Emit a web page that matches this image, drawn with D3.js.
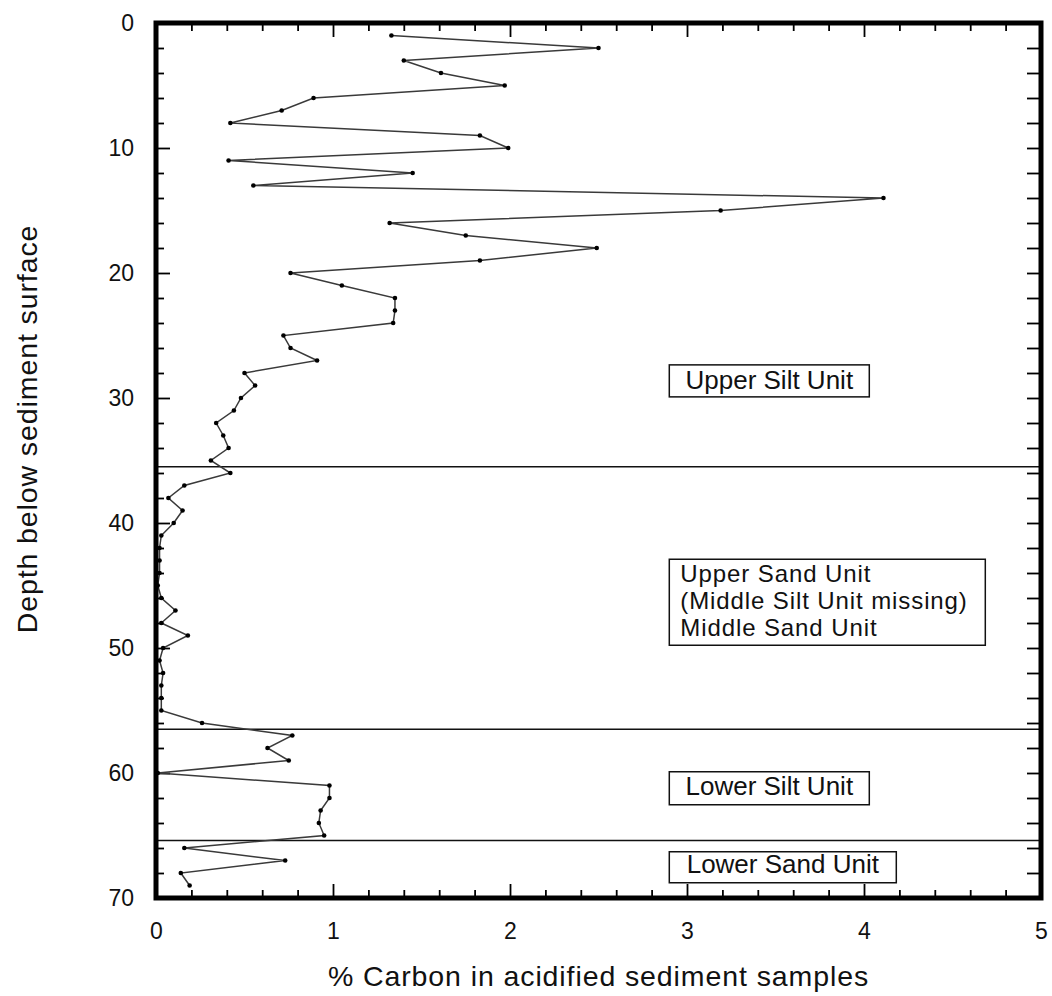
<!DOCTYPE html>
<html>
<head>
<meta charset="utf-8">
<script src="https://cdn.jsdelivr.net/npm/d3@7"></script>
<style>
  body { margin: 0; background: #fff; }
  svg text { font-family: "Liberation Sans", Arial, Helvetica, sans-serif; fill: #111; }
</style>
</head>
<body>
<div id="chart"></div>
<script>
// sample depths and % carbon read from the core profile
var depths = [1, 2, 3, 4, 5, 6, 7, 8, 9, 10, 11, 12, 13, 14, 15, 16, 17, 18, 19, 20,
  21, 22, 23, 24, 25, 26, 27, 28, 29, 30, 31, 32, 33, 34, 35, 36, 37, 38, 39, 40,
  41, 42, 43, 44, 45, 46, 47, 48, 49, 50, 51, 52, 53, 54, 55, 56, 57, 58, 59, 60,
  61, 62, 63, 64, 65, 66, 67, 68, 69];
var carbon = [1.33, 2.50, 1.40, 1.61, 1.97, 0.89, 0.71, 0.42, 1.83, 1.99,
  0.41, 1.45, 0.55, 4.11, 3.19, 1.32, 1.75, 2.49, 1.83, 0.76,
  1.05, 1.35, 1.35, 1.34, 0.72, 0.76, 0.91, 0.50, 0.56, 0.48,
  0.44, 0.34, 0.38, 0.41, 0.31, 0.42, 0.16, 0.07, 0.15, 0.10,
  0.03, 0.02, 0.02, 0.02, 0.01, 0.03, 0.11, 0.03, 0.18, 0.04,
  0.02, 0.04, 0.03, 0.03, 0.03, 0.26, 0.77, 0.63, 0.75, 0.01,
  0.98, 0.98, 0.93, 0.92, 0.95, 0.16, 0.73, 0.14, 0.19];

// depths of the unit boundaries
var boundaries = [35.5, 56.5, 65.4];

// unit labels (one entry per box, lines inside)
var unitLabels = [
  ["Upper Silt Unit"],
  ["Upper Sand Unit", "(Middle Silt Unit missing)", "Middle Sand Unit"],
  ["Lower Silt Unit"],
  ["Lower Sand Unit"]
];

var xTicks = [0, 1, 2, 3, 4, 5];
var yTicks = [0, 10, 20, 30, 40, 50, 60, 70];

var svgWidth = 1052;
var svgHeight = 996;

var margin = { top: 23, right: 11, bottom: 98, left: 156 };
var width = svgWidth - margin.left - margin.right;
var height = svgHeight - margin.top - margin.bottom;

var svg = d3.select("#chart")
  .append("svg")
  .attr("width", svgWidth)
  .attr("height", svgHeight)
  .style("display", "block");

svg.append("rect").attr("width", svgWidth).attr("height", svgHeight).attr("fill", "#fff");

var chartGroup = svg.append("g")
  .attr("transform", `translate(${margin.left}, ${margin.top})`);

var x = d3.scaleLinear().domain([0, 5]).range([0, width]);
var y = d3.scaleLinear().domain([0, 70]).range([0, height]);

var minorX = d3.range(0, 5.001, 0.2).filter(v => Math.abs(v - Math.round(v)) > 1e-6);
var minorY = d3.range(0, 70.001, 2).filter(v => v % 10 !== 0);

function styleAxis(g) {
  g.select(".domain").remove();
  g.selectAll(".tick line").attr("stroke", "#000").attr("stroke-width", 1.8);
  g.selectAll("text").attr("font-size", 23).attr("fill", "#111");
}

// bottom axis
chartGroup.append("g")
  .attr("transform", `translate(0, ${height})`)
  .call(d3.axisBottom(x).tickValues(xTicks).tickSize(-14).tickPadding(25).tickFormat(d3.format("d")))
  .call(styleAxis);
chartGroup.append("g")
  .attr("transform", `translate(0, ${height})`)
  .call(d3.axisBottom(x).tickValues(minorX).tickSize(-8).tickFormat(""))
  .call(styleAxis);

// top axis
chartGroup.append("g")
  .call(d3.axisTop(x).tickValues(xTicks).tickSize(-14).tickFormat(""))
  .call(styleAxis);
chartGroup.append("g")
  .call(d3.axisTop(x).tickValues(minorX).tickSize(-8).tickFormat(""))
  .call(styleAxis);

// left axis
chartGroup.append("g")
  .call(d3.axisLeft(y).tickValues(yTicks).tickSize(-14).tickPadding(22).tickFormat(d3.format("d")))
  .call(styleAxis);
chartGroup.append("g")
  .call(d3.axisLeft(y).tickValues(minorY).tickSize(-8).tickFormat(""))
  .call(styleAxis);

// right axis
chartGroup.append("g")
  .attr("transform", `translate(${width}, 0)`)
  .call(d3.axisRight(y).tickValues(d3.range(0, 70.001, 2)).tickSize(-14).tickFormat(""))
  .call(styleAxis);

// unit boundaries
chartGroup.selectAll(".boundary")
  .data(boundaries)
  .enter()
  .append("line")
  .attr("class", "boundary")
  .attr("x1", 0)
  .attr("x2", width)
  .attr("y1", d => y(d))
  .attr("y2", d => y(d))
  .attr("stroke", "#111")
  .attr("stroke-width", 1.6);

// label boxes: left edge, top depth, width, height (px)
var boxLayout = [
  { x: 2.9, top: 27.35, w: 200, h: 32, base: 23.8 },
  { x: 2.9, top: 42.9, w: 316, h: 86, base: 22.6 },
  { x: 2.9, top: 59.9, w: 200, h: 33, base: 23.3 },
  { x: 2.9, top: 66.3, w: 227, h: 31, base: 21.7 }
];
var lineGap = 27;

unitLabels.forEach(function(lines, i) {
  var b = boxLayout[i];
  var bx = x(b.x), by = y(b.top);
  chartGroup.append("rect")
    .attr("x", bx).attr("y", by)
    .attr("width", b.w).attr("height", b.h)
    .attr("fill", "#fff")
    .attr("stroke", "#111")
    .attr("stroke-width", 1.5);
  var multi = lines.length > 1;
  lines.forEach(function(t, j) {
    chartGroup.append("text")
      .attr("x", multi ? bx + 11 : bx + b.w / 2)
      .attr("y", by + b.base + j * lineGap)
      .attr("text-anchor", multi ? "start" : "middle")
      .attr("font-size", multi ? 24 : 26)
      .attr("letter-spacing", multi ? 0.9 : 0)
      .text(t);
  });
});

// profile line
var profile = depths.map((d, i) => ({ depth: d, c: carbon[i] }));

chartGroup.append("path")
  .datum(profile)
  .attr("fill", "none")
  .attr("stroke", "#3a3a3a")
  .attr("stroke-width", 1.5)
  .attr("d", d3.line().x(d => x(d.c)).y(d => y(d.depth)));

chartGroup.selectAll(".pt")
  .data(profile)
  .enter()
  .append("circle")
  .attr("class", "pt")
  .attr("cx", d => x(d.c))
  .attr("cy", d => y(d.depth))
  .attr("r", 2.3)
  .attr("fill", "#000");

// frame
chartGroup.append("rect")
  .attr("x", 0).attr("y", 0)
  .attr("width", width).attr("height", height)
  .attr("fill", "none")
  .attr("stroke", "#000")
  .attr("stroke-width", 5);

// axis titles
svg.append("text")
  .attr("x", margin.left + width / 2)
  .attr("y", 986)
  .attr("text-anchor", "middle")
  .attr("font-size", 28.5)
  .attr("letter-spacing", 0.9)
  .text("% Carbon in acidified sediment samples");

svg.append("text")
  .attr("transform", `translate(37, 429) rotate(-90)`)
  .attr("text-anchor", "middle")
  .attr("font-size", 28.5)
  .attr("letter-spacing", 0.9)
  .text("Depth below sediment surface");
</script>
</body>
</html>
